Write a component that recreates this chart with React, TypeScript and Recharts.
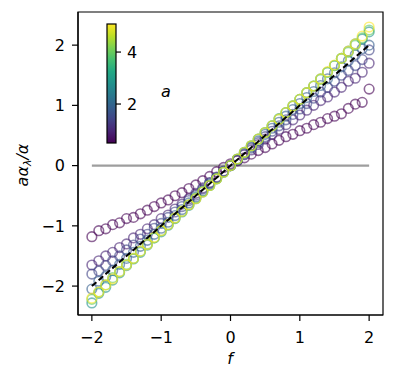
import {
  ScatterChart,
  Scatter,
  XAxis,
  YAxis,
  ReferenceLine,
  ReferenceArea,
} from "recharts";

// f grid shared by every series
const fValues = [
  -2.0, -1.9, -1.8, -1.7, -1.6, -1.5, -1.4, -1.3, -1.2, -1.1, -1.0, -0.9, -0.8,
  -0.7, -0.6, -0.5, -0.4, -0.3, -0.2, -0.1, 0.0, 0.1, 0.2, 0.3, 0.4, 0.5, 0.6,
  0.7, 0.8, 0.9, 1.0, 1.1, 1.2, 1.3, 1.4, 1.5, 1.6, 1.7, 1.8, 1.9, 2.0,
];

// a = 0.5
const ratioA05 = [
  -1.18, -1.08, -1.05, -0.98, -0.95, -0.88, -0.86, -0.8, -0.74, -0.68, -0.62,
  -0.57, -0.5, -0.45, -0.38, -0.32, -0.25, -0.18, -0.1, -0.03, 0.03, 0.08, 0.13,
  0.19, 0.25, 0.3, 0.36, 0.42, 0.48, 0.52, 0.58, 0.62, 0.68, 0.72, 0.78, 0.82,
  0.86, 0.95, 1.02, 1.05, 1.27,
];
// a = 1
const ratioA1 = [
  -1.65, -1.58, -1.5, -1.44, -1.36, -1.3, -1.2, -1.14, -1.05, -0.98, -0.88,
  -0.82, -0.72, -0.64, -0.55, -0.46, -0.37, -0.28, -0.19, -0.09, 0.0, 0.09,
  0.18, 0.26, 0.35, 0.44, 0.52, 0.6, 0.68, 0.76, 0.84, 0.92, 1.0, 1.08, 1.14,
  1.22, 1.3, 1.4, 1.45, 1.55, 1.7,
];
// a = 1.5
const ratioA15 = [
  -1.8, -1.75, -1.66, -1.58, -1.5, -1.4, -1.32, -1.22, -1.14, -1.04, -0.96,
  -0.86, -0.77, -0.68, -0.58, -0.49, -0.39, -0.29, -0.2, -0.1, 0.0, 0.1, 0.19,
  0.29, 0.38, 0.48, 0.57, 0.66, 0.76, 0.85, 0.94, 1.03, 1.12, 1.22, 1.3, 1.4,
  1.5, 1.58, 1.66, 1.76, 1.92,
];
// a = 2
const ratioA2 = [
  -2.05, -1.92, -1.84, -1.74, -1.64, -1.54, -1.44, -1.34, -1.24, -1.14, -1.04,
  -0.94, -0.83, -0.73, -0.62, -0.52, -0.42, -0.31, -0.21, -0.1, 0.0, 0.1, 0.21,
  0.31, 0.41, 0.52, 0.62, 0.72, 0.82, 0.93, 1.03, 1.13, 1.23, 1.33, 1.44, 1.54,
  1.64, 1.74, 1.84, 1.94, 2.0,
];
// a = 3
const ratioA3 = [
  -2.28, -2.12, -2.02, -1.9, -1.78, -1.66, -1.55, -1.44, -1.32, -1.2, -1.1,
  -0.99, -0.88, -0.77, -0.66, -0.55, -0.44, -0.33, -0.22, -0.11, 0.0, 0.11,
  0.22, 0.33, 0.44, 0.55, 0.66, 0.78, 0.88, 0.99, 1.1, 1.21, 1.32, 1.44, 1.55,
  1.66, 1.78, 1.9, 2.02, 2.1, 2.22,
];
// a = 4
const ratioA4 = [
  -2.22, -2.1, -1.98, -1.86, -1.76, -1.64, -1.54, -1.42, -1.3, -1.2, -1.08,
  -0.98, -0.87, -0.76, -0.65, -0.54, -0.43, -0.33, -0.22, -0.11, 0.0, 0.11,
  0.22, 0.33, 0.44, 0.55, 0.66, 0.77, 0.88, 0.99, 1.1, 1.21, 1.32, 1.43, 1.55,
  1.66, 1.78, 1.88, 2.0, 2.12, 2.25,
];
// a = 5
const ratioA5 = [
  -2.2, -2.1, -1.98, -1.88, -1.76, -1.65, -1.54, -1.42, -1.31, -1.19, -1.08,
  -0.98, -0.87, -0.76, -0.65, -0.55, -0.44, -0.33, -0.22, -0.11, 0.0, 0.11,
  0.22, 0.33, 0.44, 0.55, 0.66, 0.77, 0.88, 0.99, 1.1, 1.21, 1.32, 1.44, 1.56,
  1.67, 1.78, 1.9, 2.02, 2.15, 2.3,
];

const aValues = [0.5, 1, 1.5, 2, 3, 4, 5];
const seriesColors = ["#440154", "#482475", "#414487", "#355f8d", "#21918c", "#5ec962", "#fde725"];
const seriesValues = [ratioA05, ratioA1, ratioA15, ratioA2, ratioA3, ratioA4, ratioA5];

const xTicks = [-2, -1, 0, 1, 2];
const yTicks = [-2, -1, 0, 1, 2];
const cbarTicks = [2, 4];

const zeroLine = [
  { f: -2, y: 0 },
  { f: 2, y: 0 },
];
const identityLine = [
  { f: -2, y: -2 },
  { f: 2, y: 2 },
];

const viridisStops = [
  "#440154", "#482475", "#414487", "#355f8d", "#2a788e", "#21918c",
  "#22a884", "#44bf70", "#7ad151", "#bddf26", "#fde725",
];

const X_DOMAIN: [number, number] = [-2.2, 2.2];
const Y_DOMAIN: [number, number] = [-2.48, 2.55];
const FONT = "'DejaVu Sans', sans-serif";

const fmt = (v: number) => (v < 0 ? `\u2212${-v}` : `${v}`);

function openCircle(color: string) {
  return (props: any) => (
    <circle
      cx={props.cx}
      cy={props.cy}
      r={4.8}
      fill="none"
      stroke={color}
      strokeOpacity={0.6}
      strokeWidth={1.6}
    />
  );
}

function Colorbar() {
  // colorbar range [0.5, 5.08], drawn as a vertical gradient box
  const top = 24;
  const bottom = 143;
  const lo = 0.5;
  const hi = 5.08;
  const yOf = (v: number) => bottom - ((v - lo) / (hi - lo)) * (bottom - top);
  return (
    <svg
      width={396}
      height={384}
      style={{ position: "absolute", left: 0, top: 0, pointerEvents: "none" }}
      fontFamily={FONT}
    >
      <defs>
        <linearGradient id="viridis" x1="0" y1="1" x2="0" y2="0">
          {viridisStops.map((c, i) => (
            <stop key={i} offset={`${(i / (viridisStops.length - 1)) * 100}%`} stopColor={c} />
          ))}
        </linearGradient>
      </defs>
      <rect x={107} y={top} width={9} height={bottom - top} fill="url(#viridis)" stroke="#000" strokeWidth={1.2} />
      {cbarTicks.map((t) => (
        <g key={t}>
          <line x1={116} x2={121} y1={yOf(t)} y2={yOf(t)} stroke="#000" strokeWidth={1.2} />
          <text x={127} y={yOf(t)} dy="0.36em" fontSize={16} fill="#000">
            {t}
          </text>
        </g>
      ))}
      <text x={166} y={97} fontSize={16} fontStyle="italic" textAnchor="middle" fill="#000">
        a
      </text>
      <text x={230} y={364} fontSize={16} fontStyle="italic" textAnchor="middle" fill="#000">
        f
      </text>
      <text
        x={28}
        y={165}
        fontSize={16}
        fontStyle="italic"
        textAnchor="middle"
        fill="#000"
        transform="rotate(-90 28 165)"
      >
        aα<tspan fontSize={11} dy={3}>λ</tspan>
        <tspan dy={-3}>/α</tspan>
      </text>
    </svg>
  );
}

export default function App() {
  return (
    <div style={{ position: "absolute", left: 0, top: 0, width: 396, height: 384, background: "#fff" }}>
      <ScatterChart
        width={396}
        height={384}
        margin={{ top: 12, right: 13, bottom: 0, left: 0 }}
        style={{ fontFamily: FONT }}
      >
        <XAxis
          type="number"
          dataKey="f"
          domain={X_DOMAIN}
          ticks={xTicks}
          allowDataOverflow
          height={69}
          tickSize={6}
          tickMargin={11}
          tickFormatter={fmt}
          tick={{ fontSize: 16, fill: "#000" }}
          stroke="#000"
          strokeWidth={1.2}
        />
        <YAxis
          type="number"
          dataKey="y"
          domain={Y_DOMAIN}
          ticks={yTicks}
          allowDataOverflow
          width={78}
          tickSize={6}
          tickMargin={7}
          tickFormatter={fmt}
          tick={{ fontSize: 16, fill: "#000" }}
          stroke="#000"
          strokeWidth={1.2}
        />
        <ReferenceArea
          x1={X_DOMAIN[0]}
          x2={X_DOMAIN[1]}
          y1={Y_DOMAIN[0]}
          y2={Y_DOMAIN[1]}
          fill="none"
          stroke="#000"
          strokeWidth={1.2}
          ifOverflow="extendDomain"
        />
        <ReferenceLine
          segment={zeroLine.map((p) => ({ x: p.f, y: p.y }))}
          stroke="#9e9e9e"
          strokeWidth={2.2}
        />
        {seriesValues.map((vals, s) => (
          <Scatter
            key={aValues[s]}
            name={`a=${aValues[s]}`}
            data={fValues.map((f, i) => ({ f, y: vals[i] }))}
            shape={openCircle(seriesColors[s])}
            isAnimationActive={false}
          />
        ))}
        {/* y = f reference, drawn as a line-only scatter so it sits above the circles */}
        <Scatter
          data={identityLine}
          line={{ stroke: "#000", strokeWidth: 2, strokeDasharray: "6 3" }}
          shape={() => <g />}
          isAnimationActive={false}
        />
      </ScatterChart>
      <Colorbar />
    </div>
  );
}
